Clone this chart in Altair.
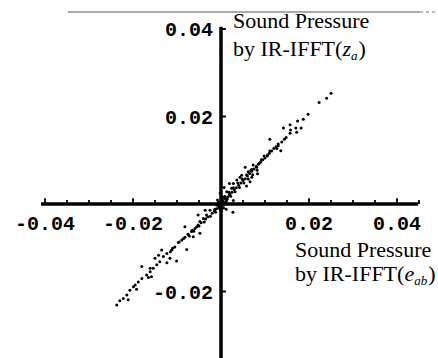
import altair as alt
import pandas as pd

# ---------------- data ----------------
pts_x = [
    0.0250, 0.0240, 0.0223, 0.0198, 0.0187, 0.0174, 0.0157, 0.0170, 0.0182, 0.0142,
    0.0158, 0.0172, 0.0157, 0.0148, 0.0144, 0.0138, 0.0111, 0.0130, 0.0127, 0.0136,
    0.0111, 0.0106, 0.0098, 0.0092, 0.0087, 0.0073, 0.0081, 0.0070, 0.0055, 0.0062,
    0.0083, 0.0047, 0.0043, 0.0070, 0.0036, 0.0066, 0.0028, 0.0058, 0.0019, 0.0024,
    0.0013, 0.0007, 0.0019, 0.0028, 0.0009,
    0.0005, 0.0010, 0.0015, 0.0020, 0.0025, 0.0030, 0.0035, 0.0040, 0.0045, 0.0050,
    0.0055, 0.0060, 0.0065, 0.0070, 0.0075, 0.0080, 0.0085, 0.0090, 0.0095, 0.0100,
    0.0105, 0.0110, 0.0115, 0.0120, 0.0125, 0.0130,
    0.0012, 0.0022, 0.0032, 0.0042, 0.0052, 0.0062, 0.0072, 0.0082,
    0.0008, 0.0018, 0.0028, 0.0038, 0.0048, 0.0058, 0.0068,
    0.0000, 0.0005, -0.0006, 0.0009, -0.0003, 0.0003, -0.0010, 0.0012, -0.0008, 0.0006,
    0.0002, -0.0002, 0.0001, 0.0027, 0.0012,
    -0.0025, -0.0033, -0.0040, -0.0048, -0.0052, -0.0059, -0.0067, -0.0074, -0.0082, -0.0089,
    -0.0097, -0.0105, -0.0112, -0.0123, -0.0131, -0.0139, -0.0146, -0.0154, -0.0161, -0.0169,
    -0.0180, -0.0188, -0.0199, -0.0207, -0.0214, -0.0222, -0.0230,
    -0.0082, -0.0063, -0.0078, -0.0101, -0.0116, -0.0123, -0.0135, -0.0142, -0.0150, -0.0161,
    -0.0158, -0.0165, -0.0180, -0.0192, -0.0195, -0.0211, -0.0237, -0.0052, -0.0048, -0.0036,
    -0.0005, -0.0010, -0.0015, -0.0020, -0.0030, -0.0035, -0.0045, -0.0055, -0.0065, -0.0075,
    -0.0085, -0.0095, -0.0110, -0.0115,
    -0.0012, -0.0024, -0.0038, -0.0050, -0.0062, -0.0072,
    0.0004, -0.0004, 0.0007, -0.0007, 0.0014, -0.0014, 0.0003, -0.0001,
]
pts_y = [
    0.0253, 0.0242, 0.0232, 0.0205, 0.0194, 0.0190, 0.0181, 0.0174, 0.0174, 0.0174,
    0.0169, 0.0164, 0.0162, 0.0152, 0.0148, 0.0142, 0.0148, 0.0133, 0.0127, 0.0122,
    0.0121, 0.0112, 0.0110, 0.0101, 0.0093, 0.0089, 0.0084, 0.0079, 0.0084, 0.0074,
    0.0069, 0.0066, 0.0061, 0.0061, 0.0055, 0.0051, 0.0047, 0.0041, 0.0047, 0.0036,
    0.0028, 0.0038, 0.0021, 0.0008, 0.0017,
    0.0006, 0.0012, 0.0016, 0.0022, 0.0027, 0.0033, 0.0037, 0.0043, 0.0048, 0.0054,
    0.0058, 0.0064, 0.0070, 0.0075, 0.0080, 0.0086, 0.0091, 0.0096, 0.0101, 0.0105,
    0.0110, 0.0116, 0.0121, 0.0127, 0.0131, 0.0137,
    0.0009, 0.0018, 0.0028, 0.0038, 0.0048, 0.0057, 0.0067, 0.0077,
    0.0016, 0.0027, 0.0037, 0.0048, 0.0057, 0.0067, 0.0077,
    0.0000, -0.0003, 0.0004, 0.0003, -0.0010, 0.0010, -0.0002, 0.0005, 0.0009, -0.0009,
    0.0018, 0.0025, -0.0016, -0.0019, -0.0012,
    -0.0014, -0.0025, -0.0033, -0.0040, -0.0048, -0.0056, -0.0063, -0.0071, -0.0076, -0.0082,
    -0.0088, -0.0098, -0.0105, -0.0113, -0.0120, -0.0132, -0.0139, -0.0147, -0.0155, -0.0162,
    -0.0170, -0.0178, -0.0189, -0.0197, -0.0208, -0.0216, -0.0221,
    -0.0052, -0.0075, -0.0104, -0.0130, -0.0124, -0.0134, -0.0105, -0.0117, -0.0124, -0.0147,
    -0.0166, -0.0168, -0.0143, -0.0195, -0.0185, -0.0219, -0.0231, -0.0025, -0.0067, -0.0014,
    -0.0006, -0.0011, -0.0016, -0.0021, -0.0029, -0.0034, -0.0043, -0.0052, -0.0060, -0.0069,
    -0.0079, -0.0087, -0.0101, -0.0109,
    -0.0019, -0.0028, -0.0041, -0.0050, -0.0062, -0.0073,
    0.0007, -0.0007, 0.0001, -0.0002, 0.0011, -0.0012, 0.0013, -0.0013,
]

x_major_ticks = [-0.04, -0.02, 0.02, 0.04]
x_minor_ticks = [-0.035, -0.03, -0.025, -0.015, -0.01, -0.005,
                 0.005, 0.01, 0.015, 0.025, 0.03, 0.035, 0.045]
x_tick_labels = ["-0.04", "-0.02", "0.02", "0.04"]
y_major_ticks = [-0.02, 0.02, 0.04]
y_tick_labels = ["-0.02", "0.02", "0.04"]

x_title_main = "Sound Pressure"
x_title_pre = "by IR-IFFT("
x_title_var = "e"
x_title_sub = "ab"
y_title_main = "Sound Pressure"
y_title_pre = "by IR-IFFT("
y_title_var = "z"
y_title_sub = "a"

# ---------------- scales ----------------
W, H = 438, 358
xs = alt.Scale(domain=[-0.050227, 0.049318], nice=False, zero=False)
ys = alt.Scale(domain=[-0.0352, 0.046629], nice=False, zero=False)
INK = "#000000"


def X(f):
    return alt.X(f, type="quantitative", scale=xs, axis=None)


def Y(f):
    return alt.Y(f, type="quantitative", scale=ys, axis=None)


# axis lines
axes_df = pd.DataFrame({"x": [-0.0409, 0.0], "x2": [0.0448, 0.0],
                        "y": [0.0, -0.0360], "y2": [0.0, 0.0405]})
axes = alt.Chart(axes_df).mark_rule(color=INK, strokeWidth=3.5).encode(
    x=X("x"), x2="x2", y=Y("y"), y2="y2")

# x ticks (pointing up)
xt_df = pd.DataFrame({
    "x": x_major_ticks + x_minor_ticks,
    "y": [0.0] * (len(x_major_ticks) + len(x_minor_ticks)),
    "y2": [0.0013] * len(x_major_ticks) + [0.0009] * len(x_minor_ticks),
})
xticks = alt.Chart(xt_df).mark_rule(color=INK, strokeWidth=1.8).encode(
    x=X("x"), y=Y("y"), y2="y2")

# y ticks (pointing right)
yt_df = pd.DataFrame({"y": y_major_ticks, "x": [0.0] * len(y_major_ticks),
                      "x2": [0.0011] * len(y_major_ticks)})
yticks = alt.Chart(yt_df).mark_rule(color=INK, strokeWidth=2).encode(
    x=X("x"), x2="x2", y=Y("y"))

# tick labels
xl_df = pd.DataFrame({"x": x_major_ticks, "y": [0.0] * 4, "t": x_tick_labels})
xlabels = alt.Chart(xl_df).mark_text(
    font="Liberation Mono", fontWeight="bold", fontSize=20, color=INK,
    align="center", baseline="middle", dy=20).encode(x=X("x"), y=Y("y"), text="t:N")

yl_df = pd.DataFrame({"y": y_major_ticks, "x": [0.0] * 3, "t": y_tick_labels})
ylabels = alt.Chart(yl_df).mark_text(
    font="Liberation Mono", fontWeight="bold", fontSize=20, color=INK,
    align="right", baseline="middle", dx=-8, dy=1).encode(x=X("x"), y=Y("y"), text="t:N")

# points
pts_df = pd.DataFrame({"a": pts_x, "b": pts_y})
points = alt.Chart(pts_df).mark_circle(size=9, color=INK, opacity=1).encode(
    x=X("a"), y=Y("b"))


def label(text, px, py, size=22, style="normal"):
    return alt.Chart(pd.DataFrame({"t": [text]})).mark_text(
        font="Liberation Serif", fontSize=size, fontStyle=style, color=INK,
        align="left", baseline="alphabetic").encode(
        x=alt.value(px), y=alt.value(py), text="t:N")


FS = 22
# pre-text width (Times metrics): 4.972 em
pre_w = 4.972 * FS
titles = [
    label(y_title_main, 233, 28),
    label(y_title_pre, 233, 56),
    label(y_title_var, 233 + pre_w, 56, style="italic"),
    label(y_title_sub, 233 + pre_w + 0.389 * FS, 60, size=13, style="italic"),
    label(")", 233 + pre_w + 0.389 * FS + 7.5, 56),
    label(x_title_main, 295, 257),
    label(x_title_pre, 295, 281),
    label(x_title_var, 295 + pre_w, 281, style="italic"),
    label(x_title_sub, 295 + pre_w + 0.444 * FS, 285, size=13, style="italic"),
    label(")", 295 + pre_w + 0.444 * FS + 14, 281),
]

# faint scan border line at top
border = alt.Chart(pd.DataFrame({"k": [0]})).mark_rule(
    color="#555555", strokeWidth=1).encode(
    x=alt.value(68), x2=alt.value(420), y=alt.value(12))
border2 = alt.Chart(pd.DataFrame({"k": [0]})).mark_rule(
    color="#777777", strokeWidth=1, strokeDash=[3, 3]).encode(
    x=alt.value(420), x2=alt.value(438), y=alt.value(12))

chart = alt.layer(border, border2, points, axes, xticks, yticks, xlabels, ylabels,
                  *titles).properties(
    width=W, height=H, padding=0,
    autosize=alt.AutoSizeParams(type="none"),
    background="white",
).configure_view(stroke=None)

chart.save("out.html", embed_options={"renderer": "svg", "actions": False})
